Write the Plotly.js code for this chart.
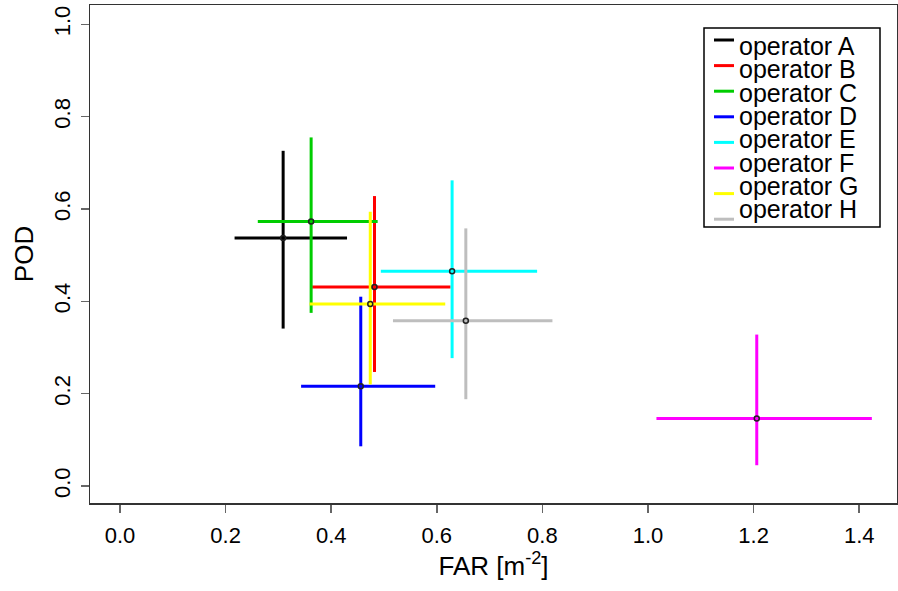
<!DOCTYPE html>
<html>
<head>
<meta charset="utf-8">
<script src="https://cdn.plot.ly/plotly-3.0.1.min.js"></script>
<style>html,body{margin:0;padding:0;background:#fff;}#chart{width:898px;height:591px;}</style>
</head>
<body>
<div id="chart"></div>
<script>
// ---- data ----
var operators = ["operator A","operator B","operator C","operator D","operator E","operator F","operator G","operator H"];
var colours   = ["#000000","#FF0000","#00CD00","#0000FF","#00FFFF","#FF00FF","#FFFF00","#BEBEBE"];
var farMid  = [0.309, 0.482, 0.362, 0.456, 0.629, 1.206, 0.474, 0.655];
var farLow  = [0.217, 0.364, 0.261, 0.343, 0.494, 1.016, 0.359, 0.517];
var farHigh = [0.430, 0.626, 0.488, 0.597, 0.790, 1.424, 0.616, 0.819];
var podMid  = [0.537, 0.431, 0.573, 0.216, 0.465, 0.146, 0.394, 0.358];
var podLow  = [0.341, 0.247, 0.375, 0.086, 0.277, 0.045, 0.220, 0.188];
var podHigh = [0.726, 0.628, 0.755, 0.410, 0.662, 0.328, 0.594, 0.558];
var xTicks = [0.0, 0.2, 0.4, 0.6, 0.8, 1.0, 1.2, 1.4];
var yTicks = [0.0, 0.2, 0.4, 0.6, 0.8, 1.0];

// ---- layout geometry ----
var W = 898, H = 591, mL = 90, mR = 1, mT = 5, mB = 88;
var pw = W - mL - mR, ph = H - mT - mB;
function px(x){ return (x - mL) / pw; }
function py(y){ return (H - mB - y) / ph; }
var FONT = "Liberation Sans, Arial, sans-serif";

var traces = [];
for (var i = 0; i < operators.length; i++) {
  traces.push({
    type: "scatter", mode: "lines", name: operators[i], showlegend: false,
    x: [farLow[i], farHigh[i], null, farMid[i], farMid[i]],
    y: [podMid[i], podMid[i], null, podLow[i], podHigh[i]],
    line: {color: colours[i], width: 3},
    hoverinfo: "skip"
  });
}
traces.push({
  type: "scatter", mode: "markers", showlegend: false,
  x: farMid, y: podMid, text: operators,
  marker: {size: 5, color: colours, line: {color: "#222", width: 1.5}}
});

// legend drawn from the names / colours
var shapes = [{
  type: "rect", xref: "paper", yref: "paper",
  x0: px(704), x1: px(880), y0: py(28), y1: py(227),
  line: {color: "#000", width: 1.5}, fillcolor: "rgba(255,255,255,1)", layer: "above"
}];
var annotations = [];
for (var k = 0; k < operators.length; k++) {
  shapes.push({
    type: "line", xref: "paper", yref: "paper",
    x0: px(714), x1: px(734), y0: py(40 + 25.6 * k), y1: py(40 + 25.6 * k),
    line: {color: colours[k], width: 3}, layer: "above"
  });
  annotations.push({
    xref: "paper", yref: "paper", x: px(737), y: py(46 + 23.3 * k),
    xanchor: "left", yanchor: "middle", showarrow: false,
    text: operators[k], font: {family: FONT, size: 25, color: "#000"}
  });
}

var layout = {
  width: W, height: H,
  margin: {l: mL, r: mR, t: mT, b: mB, pad: 0},
  paper_bgcolor: "#fff", plot_bgcolor: "#fff",
  showlegend: false,
  font: {family: FONT, color: "#000"},
  xaxis: {
    range: [-0.0568, 1.4716], tickvals: xTicks,
    ticktext: xTicks.map(function(v){ return v.toFixed(1); }),
    ticks: "outside", ticklen: 8, tickcolor: "#666", tickwidth: 1.5,
    showline: true, mirror: true, linecolor: "#333", linewidth: 1.5,
    showgrid: false, zeroline: false,
    tickfont: {family: FONT, size: 22, color: "#000"},
    ticklabelstandoff: 4,
    title: {text: "FAR [m<sup>-2</sup>]", font: {family: FONT, size: 26, color: "#000"}, standoff: 8}
  },
  yaxis: {
    range: [-0.0368, 1.0418], tickvals: yTicks,
    ticktext: yTicks.map(function(v){ return v.toFixed(1); }),
    tickangle: -90,
    ticks: "outside", ticklen: 8, tickcolor: "#666", tickwidth: 1.5,
    showline: true, mirror: true, linecolor: "#333", linewidth: 1.5,
    showgrid: false, zeroline: false,
    tickfont: {family: FONT, size: 22, color: "#000"},
    ticklabelstandoff: 2,
    title: {text: "POD", font: {family: FONT, size: 26, color: "#000"}, standoff: 8}
  },
  shapes: shapes,
  annotations: annotations
};

Plotly.newPlot("chart", traces, layout, {staticPlot: true, displayModeBar: false});
</script>
</body>
</html>
